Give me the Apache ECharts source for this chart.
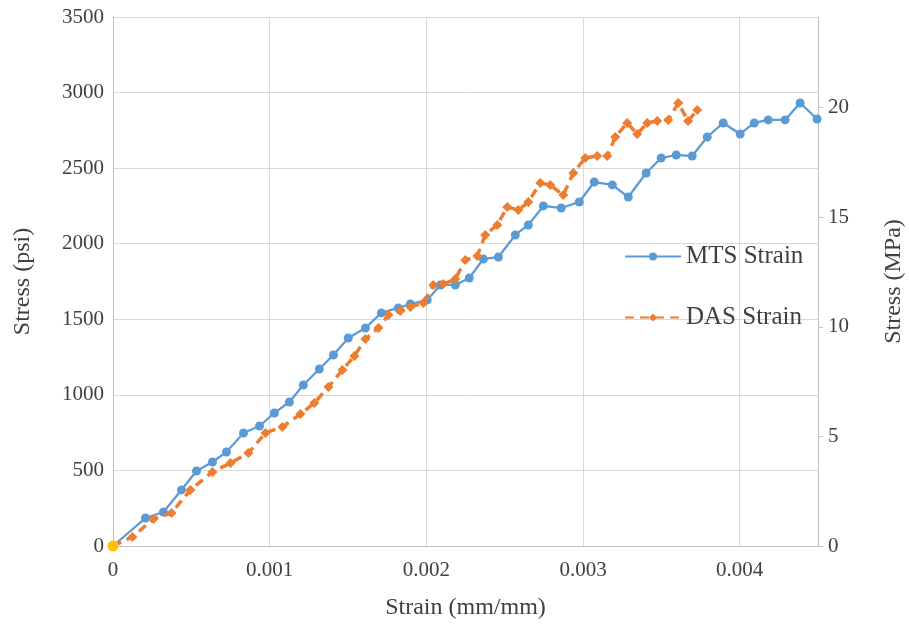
<!DOCTYPE html>
<html>
<head>
<meta charset="utf-8">
<script src="https://cdn.jsdelivr.net/npm/echarts@6/dist/echarts.min.js"></script>
<style>
  html, body { margin: 0; padding: 0; background: #fff; }
  #chart { width: 909px; height: 630px; }
</style>
</head>
<body>
<div id="chart"></div>
<script>
// Strain (mm/mm) readings of the MTS extensometer and the corresponding stress (psi)
const mtsStrain = [0, 0.000207, 0.000322, 0.000437, 0.000533, 0.000635, 0.000724, 0.000833, 0.000935, 0.00103,
  0.001126, 0.001215, 0.001317, 0.001407, 0.001502, 0.001611, 0.001713, 0.001821, 0.001898, 0.002006,
  0.002089, 0.002185, 0.002274, 0.002364, 0.00246, 0.002568, 0.002651, 0.002747, 0.002861, 0.002976,
  0.003072, 0.003187, 0.003289, 0.003403, 0.003499, 0.003595, 0.003697, 0.003793, 0.003895, 0.004003,
  0.004093, 0.004182, 0.00429, 0.004386, 0.004494];
const mtsStress = [0, 185, 225, 371, 496, 556, 622, 748, 794, 880,
  953, 1065, 1171, 1264, 1376, 1442, 1542, 1575, 1601, 1628,
  1727, 1727, 1773, 1899, 1912, 2058, 2124, 2250, 2236, 2276,
  2408, 2389, 2309, 2468, 2567, 2587, 2580, 2706, 2799, 2726,
  2799, 2819, 2819, 2931, 2825];

// Strain from the distributed acoustic sensing fibre and the corresponding stress (psi)
const dasStrain = [0, 0.000124, 0.000258, 0.000373, 0.000494, 0.000635, 0.00075, 0.000864, 0.000973, 0.001081,
  0.001196, 0.001285, 0.001375, 0.001464, 0.001541, 0.001611, 0.001694, 0.001758, 0.001834, 0.001898,
  0.001981, 0.002045, 0.002108, 0.002185, 0.002249, 0.002325, 0.002376, 0.002453, 0.002517, 0.002587,
  0.002651, 0.002727, 0.002791, 0.002874, 0.002938, 0.003014, 0.003091, 0.003155, 0.003206, 0.003282,
  0.003346, 0.00341, 0.003474, 0.003544, 0.003608, 0.003671, 0.003729];
const dasStress = [0, 60, 179, 218, 371, 490, 549, 615, 748, 787,
  873, 946, 1052, 1164, 1257, 1370, 1442, 1528, 1555, 1581,
  1608, 1727, 1733, 1767, 1892, 1919, 2058, 2124, 2243, 2223,
  2276, 2402, 2389, 2322, 2468, 2567, 2580, 2580, 2706, 2799,
  2726, 2799, 2812, 2819, 2931, 2812, 2885];

// Starting point of the test
const originPoint = [[0, 0]];

const strainTicks = [0, 0.001, 0.002, 0.003, 0.004];
const mpaTicks = [0, 5, 10, 15, 20];
const PSI_PER_MPA = 145.038;

const pairs = (xs, ys) => xs.map((x, i) => [x, ys[i]]);

const textColor = '#404040';
const font = 'Liberation Serif, Times New Roman, serif';
const tickSize = 21;
const titleSize = 24;

const chart = echarts.init(document.getElementById('chart'), null, { renderer: 'canvas' });
chart.setOption({
  backgroundColor: '#ffffff',
  animation: false,
  textStyle: { fontFamily: font },
  grid: { left: 113, right: 91, top: 17, bottom: 84, containLabel: false, outerBoundsMode: 'none' },
  legend: {
    data: ['MTS Strain', 'DAS Strain'],
    orient: 'vertical',
    left: 624,
    top: 244,
    padding: 0,
    itemWidth: 56,
    itemHeight: 10,
    itemGap: 36,
    textStyle: { fontFamily: font, fontSize: 25, color: textColor }
  },
  xAxis: {
    type: 'value',
    min: 0,
    max: 0.0045,
    interval: 0.001,
    name: 'Strain (mm/mm)',
    nameLocation: 'middle',
    nameGap: 50,
    nameTextStyle: { fontFamily: font, fontSize: titleSize, color: textColor },
    axisLine: { show: true, onZero: false, lineStyle: { color: '#BFBFBF', width: 1 } },
    axisTick: { show: false },
    axisLabel: {
      customValues: strainTicks,
      formatter: v => String(v),
      fontFamily: font, fontSize: tickSize, color: textColor, margin: 14
    },
    splitLine: { show: true, lineStyle: { color: '#D9D9D9', width: 1 } }
  },
  yAxis: [
    {
      type: 'value',
      min: 0,
      max: 3500,
      interval: 500,
      name: 'Stress (psi)',
      nameLocation: 'middle',
      nameGap: 78,
      nameTextStyle: { fontFamily: font, fontSize: titleSize, color: textColor },
      axisLine: { show: true, lineStyle: { color: '#BFBFBF', width: 1 } },
      axisTick: { show: false },
      axisLabel: { formatter: v => String(v), fontFamily: font, fontSize: tickSize, color: textColor, margin: 9 },
      splitLine: { show: true, lineStyle: { color: '#D9D9D9', width: 1 } }
    },
    {
      type: 'value',
      position: 'right',
      min: 0,
      max: 3500 / PSI_PER_MPA,
      interval: 5,
      name: 'Stress (MPa)',
      nameLocation: 'middle',
      nameGap: 64,
      nameTextStyle: { fontFamily: font, fontSize: titleSize, color: textColor },
      axisLine: { show: true, lineStyle: { color: '#BFBFBF', width: 1 } },
      axisTick: { show: true, inside: false, length: 5, customValues: mpaTicks, lineStyle: { color: '#BFBFBF' } },
      axisLabel: { customValues: mpaTicks, fontFamily: font, fontSize: tickSize, color: textColor, margin: 10 },
      splitLine: { show: false }
    }
  ],
  series: [
    {
      name: 'MTS Strain',
      type: 'line',
      yAxisIndex: 0,
      data: pairs(mtsStrain, mtsStress),
      symbol: 'circle',
      symbolSize: 9,
      color: '#5B9BD5',
      lineStyle: { color: '#5B9BD5', width: 2.25 },
      itemStyle: { color: '#5B9BD5' },
      z: 3
    },
    {
      name: 'DAS Strain',
      type: 'line',
      yAxisIndex: 0,
      data: pairs(dasStrain, dasStress),
      symbol: 'diamond',
      symbolSize: 10,
      color: '#ED7D31',
      lineStyle: { color: '#ED7D31', width: 3.5, type: [9, 6] },
      itemStyle: { color: '#ED7D31' },
      z: 4
    },
    {
      name: 'Origin',
      type: 'line',
      yAxisIndex: 0,
      data: originPoint,
      symbol: 'circle',
      symbolSize: 11,
      itemStyle: { color: '#FFC000' },
      lineStyle: { width: 0 },
      z: 5
    }
  ]
});
</script>
</body>
</html>
